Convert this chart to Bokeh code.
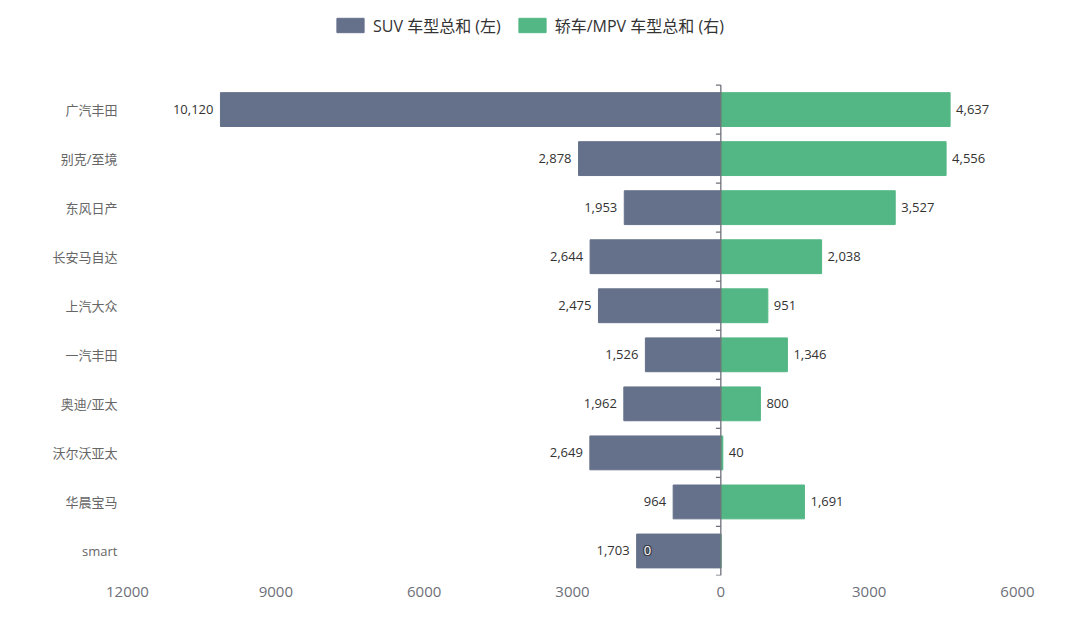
from bokeh.plotting import figure
from bokeh.models import ColumnDataSource, Range1d, FixedTicker, Legend, LegendItem
from bokeh.core.properties import value
from bokeh.embed import file_html
from bokeh.resources import INLINE

categories = ["广汽丰田", "别克/至境", "东风日产", "长安马自达", "上汽大众",
              "一汽丰田", "奥迪/亚太", "沃尔沃亚太", "华晨宝马", "smart"]
suv = [10120, 2878, 1953, 2644, 2475, 1526, 1962, 2649, 964, 1703]
sedan = [4637, 4556, 3527, 2038, 951, 1346, 800, 40, 1691, 0]
x_ticks = [-12000, -9000, -6000, -3000, 0, 3000, 6000]
series_names = ["SUV 车型总和 (左)", "轿车/MPV 车型总和 (右)"]

C_SUV = "#65718A"
C_SEDAN = "#53B785"
FONT = "Open Sans, 'Noto Sans CJK SC'"

n = len(categories)
ys = [i + 0.5 for i in range(n)]
src = ColumnDataSource(dict(
    y=ys, cat=categories,
    suv_neg=[-v for v in suv], sedan=sedan,
    suv_lbl=[f"{v:,}" for v in suv],
    sedan_lbl=[f"{v:,}" for v in sedan],
))

# top of y range extended to leave room for the legend inside the frame
p = figure(width=1064, height=619, output_backend="svg", toolbar_location=None,
           x_range=Range1d(x_ticks[0], x_ticks[-1]), y_range=Range1d(n, -1.724),
           min_border_left=127, min_border_right=47, min_border_top=0, min_border_bottom=44)
p.outline_line_color = None
p.xgrid.visible = False
p.ygrid.visible = False

r1 = p.hbar(y="y", left="suv_neg", right=0, height=0.69, color=C_SUV, source=src)
r2 = p.hbar(y="y", left=0, right="sedan", height=0.69, color=C_SEDAN, source=src)

# zero axis line with ticks at category boundaries
p.segment(x0=[0], y0=[0], x1=[0], y1=[n], line_color="#6E7079", line_width=1.3)
p.segment(x0=[-100] * (n + 1), y0=list(range(n + 1)), x1=[0] * (n + 1), y1=list(range(n + 1)),
          line_color="#6E7079", line_width=1.3)

# value labels
p.text(x="suv_neg", y="y", text="suv_lbl", source=src, x_offset=-7, text_align="right",
       text_baseline="middle", text_font=value(FONT), text_font_size="13px", text_color="#333333")
pos = ColumnDataSource(dict(
    x=[v for v in sedan if v > 0], y=[ys[i] for i, v in enumerate(sedan) if v > 0],
    t=[f"{v:,}" for v in sedan if v > 0]))
p.text(x="x", y="y", text="t", source=pos, x_offset=6, text_align="left",
       text_baseline="middle", text_font=value(FONT), text_font_size="13px", text_color="#333333")
zero = ColumnDataSource(dict(
    x=[-suv[i] for i, v in enumerate(sedan) if v == 0], y=[ys[i] for i, v in enumerate(sedan) if v == 0],
    t=[f"{v:,}" for v in sedan if v == 0]))
for dx, dy in [(-1, 0), (1, 0), (0, -1), (0, 1), (-1, -1), (1, 1), (-1, 1), (1, -1)]:
    p.text(x="x", y="y", text="t", source=zero, x_offset=7 + dx, y_offset=dy, text_align="left",
           text_baseline="middle", text_font=value(FONT), text_font_size="13px", text_color="#3A3F4A")
p.text(x="x", y="y", text="t", source=zero, x_offset=7, text_align="left",
       text_baseline="middle", text_font=value(FONT), text_font_size="13px", text_color="white")

# x axis
p.xaxis.ticker = FixedTicker(ticks=x_ticks)
p.xaxis.major_label_overrides = {t: str(abs(t)) for t in x_ticks}
p.xaxis.axis_line_color = None
p.xaxis.major_tick_line_color = None
p.xaxis.major_tick_out = 0
p.xaxis.major_tick_in = 0
p.xaxis.minor_tick_line_color = None
p.xaxis.major_label_standoff = 11
p.xaxis.major_label_text_font = FONT
p.xaxis.major_label_text_font_size = "15px"
p.xaxis.major_label_text_color = "#6E7079"

# y axis
p.yaxis.ticker = FixedTicker(ticks=ys)
p.yaxis.major_label_overrides = {y: c for y, c in zip(ys, categories)}
p.yaxis.axis_line_color = None
p.yaxis.major_tick_line_color = None
p.yaxis.major_tick_out = 0
p.yaxis.major_tick_in = 0
p.yaxis.minor_tick_line_color = None
p.yaxis.major_label_standoff = 10
p.yaxis.major_label_text_font = FONT
p.yaxis.major_label_text_font_size = "13px"
p.yaxis.major_label_text_color = "#666666"

legend = Legend(items=[LegendItem(label=series_names[0], renderers=[r1]),
                       LegendItem(label=series_names[1], renderers=[r2])],
                orientation="horizontal", location=(206, 538),
                glyph_width=34, glyph_height=18, label_standoff=6, spacing=14,
                label_text_font=FONT, label_text_font_size="16px", label_text_color="#333333",
                border_line_color=None, background_fill_alpha=0, padding=0, margin=0)
p.add_layout(legend)

open("out.html", "w").write(file_html(p, INLINE))
